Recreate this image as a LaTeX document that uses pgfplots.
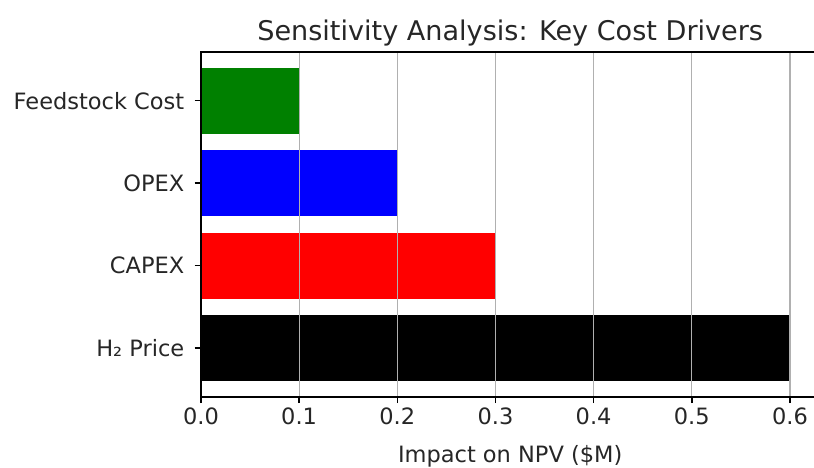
\documentclass[border=0pt]{standalone}
\usepackage{fontspec}
\setmainfont{DejaVu Sans}
\usepackage{pgfplots}
\pgfplotsset{compat=1.18}
\begin{document}
\begin{tikzpicture}
\path[use as bounding box] (-144.7pt,-51.1pt) rectangle (441.4pt,285.8pt);
\begin{axis}[
  at={(0,0)}, anchor=south west,
  scale only axis,
  width=445.3pt, height=248.4pt,
  xmin=0, xmax=0.63,
  ymin=-0.59, ymax=3.59,
  xbar, bar width=0.8, bar shift=0pt,
  ytick={0,1,2,3},
  yticklabels={H₂ Price,CAPEX,OPEX,Feedstock Cost},
  xtick={0,0.1,0.2,0.3,0.4,0.5,0.6},
  xticklabels={0.0,0.1,0.2,0.3,0.4,0.5,0.6},
  xmajorgrids,
  major grid style={color=black!31, line width=0.9pt},
  axis line style={line width=1.1pt},
  tick style={line width=1.1pt, black},
  major tick length=4.5pt,
  xtick pos=bottom, ytick pos=left,
  tick align=outside,
  axis on top,
  tick label style={font=\fontsize{16.2}{19}\selectfont, text=black!85},
  yticklabel style={xshift=-4pt},
  xlabel={Impact on NPV (\$M)},
  label style={font=\fontsize{16.2}{19}\selectfont, text=black!85},
  xlabel style={yshift=-8pt},
  title={Sensitivity Analysis: Key Cost Drivers},
  title style={font=\fontsize{19.5}{23}\selectfont, text=black!85, yshift=-5pt},
]
\addplot[draw=none, fill=black] coordinates {(0.6,0)};
\addplot[draw=none, fill=red] coordinates {(0.3,1)};
\addplot[draw=none, fill=blue] coordinates {(0.2,2)};
\addplot[draw=none, fill={rgb,255:red,0;green,128;blue,0}] coordinates {(0.1,3)};
\end{axis}
\end{tikzpicture}
\end{document}
